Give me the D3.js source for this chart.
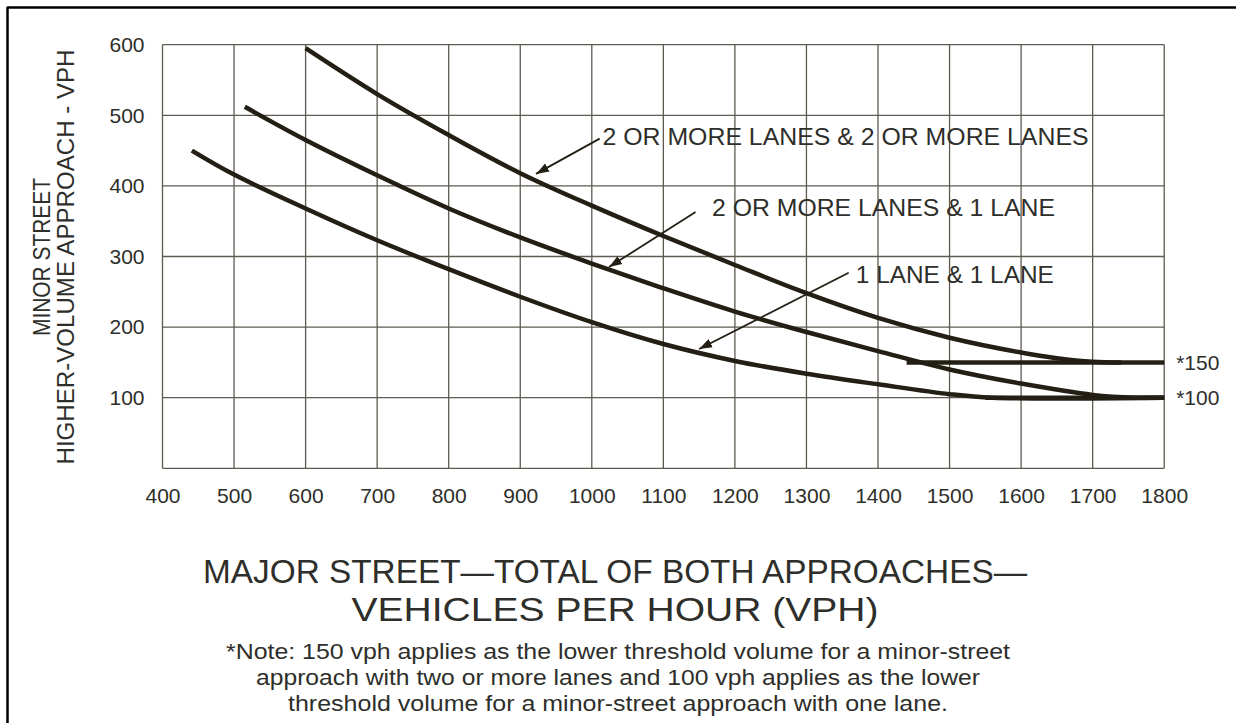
<!DOCTYPE html>
<html><head><meta charset="utf-8">
<script src="https://cdn.jsdelivr.net/npm/d3@7"></script>
<style>body{margin:0;background:#fff;overflow:hidden;} svg{display:block;}</style>
</head><body>
<script>
// ---- data ----
const xTicks = [400,500,600,700,800,900,1000,1100,1200,1300,1400,1500,1600,1700,1800];
const yTicks = [100,200,300,400,500,600];
const yGrid = [0,100,200,300,400,500,600];
const curve2plus2plus = [[600,595],[700,530],[800,472],[900,418],[1000,372],[1100,329],[1200,288],[1300,248],[1400,213],[1500,185],[1600,164],[1650,156],[1700,151],[1740,150]];
const curve2plus1 = [[515,512],[600,465],[700,415],[800,368],[900,327],[1000,290],[1100,255],[1200,222],[1300,193],[1400,166],[1500,140],[1600,120],[1700,104],[1760,100],[1800,100]];
const curve1and1 = [[441,450],[500,416],[600,368],[700,323],[800,282],[900,243],[1000,207],[1100,176],[1200,152],[1300,134],[1400,119],[1500,105],[1560,100],[1800,100]];
const threshold150 = [[1440,150],[1800,150]];
const threshold100 = [[1550,100],[1800,100]];
const curveLabels = ["2 OR MORE LANES & 2 OR MORE LANES","2 OR MORE LANES & 1 LANE","1 LANE & 1 LANE"];
const labelAnchors = [[1015,458],[1168,357],[1369,263]];
const arrowTails = [[1011,467],[1145,363],[1359,277]];
const arrowHeads = [[922,417],[1024,285],[1150,169]];
const thresholdLabels = ["*150","*100"];
const thresholdValues = [150,100];
const yTitle = ["MINOR STREET","HIGHER-VOLUME APPROACH - VPH"];
const xTitle = ["MAJOR STREET\u2014TOTAL OF BOTH APPROACHES\u2014","VEHICLES PER HOUR (VPH)"];
const noteLines = ["*Note: 150 vph applies as the lower threshold volume for a minor-street",
  "approach with two or more lanes and 100 vph applies as the lower",
  "threshold volume for a minor-street approach with one lane."];

// ---- drawing ----
const W = 1236, H = 723;
const svg = d3.select("body").append("svg").attr("width", W).attr("height", H);
const font = "'Liberation Sans', Arial, Helvetica, sans-serif";
const txt = "#2e2e2a";
const ink = "#231f14";
const gridC = "#5e5a50";

svg.append("line").attr("x1",7).attr("x2",W).attr("y1",7.5).attr("y2",7.5).attr("stroke","#000").attr("stroke-width",2.5);
svg.append("line").attr("x1",7.5).attr("x2",7.5).attr("y1",7).attr("y2",H).attr("stroke","#000").attr("stroke-width",2.5);

const x = d3.scaleLinear().domain([400,1800]).range([162.5,1164.2]);
const y = d3.scaleLinear().domain([0,600]).range([468.3,44.7]);

const g = svg.append("g");
g.selectAll(".vg").data(xTicks).join("line")
  .attr("x1",d=>x(d)).attr("x2",d=>x(d)).attr("y1",y(0)).attr("y2",y(600))
  .attr("stroke",gridC).attr("stroke-width",1.3);
g.selectAll(".hg").data(yGrid).join("line")
  .attr("x1",x(400)).attr("x2",x(1800)).attr("y1",d=>y(d)).attr("y2",d=>y(d))
  .attr("stroke",gridC).attr("stroke-width",1.3);

const xAxis = d3.axisBottom(x).tickValues(xTicks).tickSize(0).tickPadding(20).tickFormat(d3.format("d"));
const ax = svg.append("g").attr("transform",`translate(0,${y(0)})`).call(xAxis);
ax.select(".domain").remove();
ax.selectAll("text").attr("font-family",font).attr("font-size",21).attr("fill",txt);
const yAxis = d3.axisLeft(y).tickValues(yTicks).tickSize(0).tickPadding(18).tickFormat(d3.format("d"));
const ay = svg.append("g").attr("transform",`translate(${x(400)},0)`).call(yAxis);
ay.select(".domain").remove();
ay.selectAll("text").attr("font-family",font).attr("font-size",21).attr("fill",txt);

const line = d3.line().x(d=>x(d[0])).y(d=>y(d[1])).curve(d3.curveCatmullRom.alpha(0.5));
[curve2plus2plus, curve2plus1, curve1and1].forEach(c=>{
  svg.append("path").attr("d",line(c)).attr("fill","none").attr("stroke",ink)
    .attr("stroke-width",4.5).attr("stroke-linecap","butt");
});
const straight = d3.line().x(d=>x(d[0])).y(d=>y(d[1]));
[threshold150, threshold100].forEach(c=>{
  svg.append("path").attr("d",straight(c)).attr("fill","none").attr("stroke",ink).attr("stroke-width",4.5);
});

svg.append("defs").append("marker").attr("id","ah").attr("viewBox","0 0 10 10")
  .attr("refX",10).attr("refY",5).attr("markerWidth",13).attr("markerHeight",13)
  .attr("markerUnits","userSpaceOnUse").attr("orient","auto")
  .append("path").attr("d","M0,1.5 L10,5 L0,8.5 Z").attr("fill",ink);
arrowTails.forEach((t,i)=>{
  const h = arrowHeads[i];
  svg.append("line").attr("x1",x(t[0])).attr("y1",y(t[1])).attr("x2",x(h[0])).attr("y2",y(h[1]))
    .attr("stroke",ink).attr("stroke-width",1.8).attr("marker-end","url(#ah)");
});
const labelWidths = [486,343,198];
curveLabels.forEach((s,i)=>{
  svg.append("text").attr("x",x(labelAnchors[i][0])).attr("y",y(labelAnchors[i][1]))
    .attr("font-family",font).attr("font-size",24).attr("fill",txt)
    .attr("textLength",labelWidths[i]).attr("lengthAdjust","spacingAndGlyphs").text(s);
});
thresholdLabels.forEach((s,i)=>{
  svg.append("text").attr("x",x(1800)+12).attr("y",y(thresholdValues[i])).attr("dy","0.35em")
    .attr("font-family",font).attr("font-size",21).attr("fill",txt).text(s);
});

const yt = svg.append("g").attr("transform","translate(0,257) rotate(-90)");
const ytW = [158,415];
yTitle.forEach((s,i)=>{
  yt.append("text").attr("x",0).attr("y",50+i*24).attr("text-anchor","middle")
    .attr("font-family",font).attr("font-size",23).attr("fill",txt)
    .attr("textLength",ytW[i]).attr("lengthAdjust","spacingAndGlyphs").text(s);
});
const xtW = [824,527];
xTitle.forEach((s,i)=>{
  svg.append("text").attr("x",615).attr("y",583+i*38).attr("text-anchor","middle")
    .attr("font-family",font).attr("font-size",34).attr("fill",txt)
    .attr("textLength",xtW[i]).attr("lengthAdjust","spacingAndGlyphs").text(s);
});
const nW = [784,724,660];
noteLines.forEach((s,i)=>{
  svg.append("text").attr("x",618).attr("y",659+i*26).attr("text-anchor","middle")
    .attr("font-family",font).attr("font-size",22).attr("fill",txt)
    .attr("textLength",nW[i]).attr("lengthAdjust","spacingAndGlyphs").text(s);
});
</script>
</body></html>
